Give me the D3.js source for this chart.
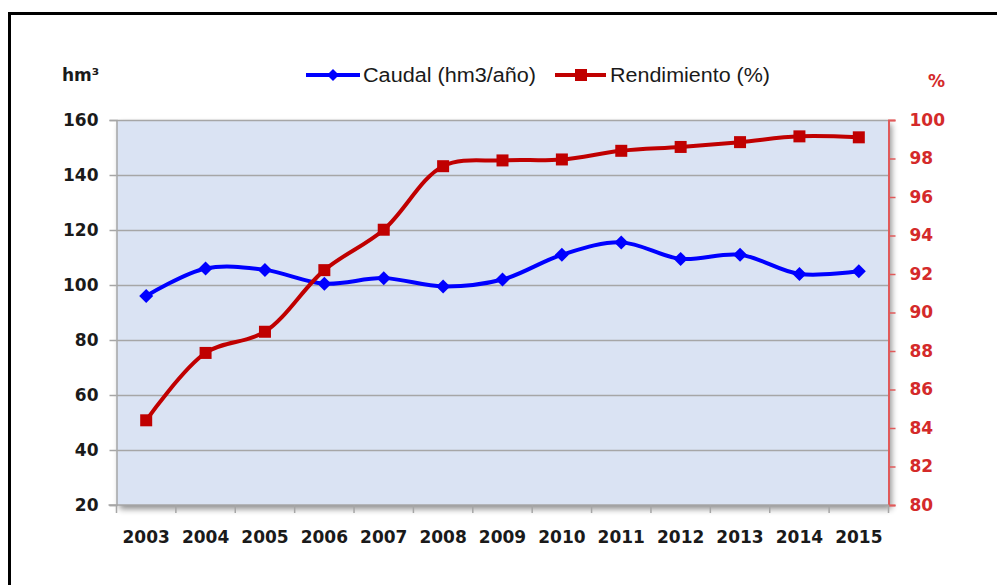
<!DOCTYPE html>
<html><head><meta charset="utf-8">
<script src="https://cdn.jsdelivr.net/npm/d3@7"></script>
<style>body{margin:0;background:#fff}svg{display:block}</style>
</head><body>
<script>
const years = ["2003","2004","2005","2006","2007","2008","2009","2010","2011","2012","2013","2014","2015"];
const caudal = [96, 106, 105.5, 100.5, 102.5, 99.5, 102, 111, 115.5, 109.5, 111, 104, 105];
const rendimiento = [84.4, 87.9, 89.0, 92.2, 94.3, 97.6, 97.9, 97.95, 98.4, 98.6, 98.85, 99.15, 99.1];
const leftTicks = [20,40,60,80,100,120,140,160];
const rightTicks = [80,82,84,86,88,90,92,94,96,98,100];
const legendLabels = ["Caudal (hm3/año)", "Rendimiento (%)"];

const W = 997, H = 585;
const svg = d3.select("body").append("svg").attr("width", W).attr("height", H);

// outer frame
svg.append("path").attr("d", "M9.5,600 L9.5,13.5 L1000,13.5")
  .attr("fill","none").attr("stroke","#000").attr("stroke-width",3);

const L = 116.5, R = 888.5, T = 120, B = 505;
const x = d3.scaleBand().domain(years).range([L, R]);
const yL = d3.scaleLinear().domain([20,160]).range([B, T]);
const yR = d3.scaleLinear().domain([80,100]).range([B, T]);

const defs = svg.append("defs");
const f = defs.append("filter").attr("id","sh").attr("x","-5%").attr("y","-5%").attr("width","115%").attr("height","115%");
f.append("feGaussianBlur").attr("in","SourceAlpha").attr("stdDeviation",3);
f.append("feOffset").attr("dx",3).attr("dy",4).attr("result","b");
f.append("feComponentTransfer").append("feFuncA").attr("type","linear").attr("slope",0.45);
const m = f.append("feMerge"); m.append("feMergeNode"); m.append("feMergeNode").attr("in","SourceGraphic");

svg.append("rect").attr("x",L).attr("y",T).attr("width",R-L).attr("height",B-T)
  .attr("fill","#dae3f3").attr("filter","url(#sh)");

// gridlines
svg.append("g").selectAll("line").data(leftTicks.slice(1)).join("line")
  .attr("x1",L).attr("x2",R).attr("y1",d=>Math.round(yL(d))+0.5).attr("y2",d=>Math.round(yL(d))+0.5)
  .attr("stroke","#a6a6a6").attr("stroke-width",1.5);

const tickFont = 17;
// left axis
const gl = svg.append("g").attr("transform",`translate(${L},0)`)
  .call(d3.axisLeft(yL).tickValues(leftTicks).tickSize(7).tickPadding(11));
gl.select(".domain").attr("stroke","#a6a6a6").attr("stroke-width",1.5);
gl.selectAll(".tick line").attr("stroke","#a6a6a6").attr("stroke-width",1.5);
gl.selectAll("text").attr("font-family","DejaVu Sans").attr("font-weight","bold").attr("font-size",tickFont).attr("fill","#1a1a1a");

// right axis
const gr = svg.append("g").attr("transform",`translate(${R},0)`)
  .call(d3.axisRight(yR).tickValues(rightTicks).tickSize(7).tickPadding(14));
gr.select(".domain").attr("stroke","#e05a5a").attr("stroke-width",2);
gr.selectAll(".tick line").attr("stroke","#e05a5a").attr("stroke-width",1.5);
gr.selectAll("text").attr("font-family","DejaVu Sans").attr("font-weight","bold").attr("font-size",tickFont).attr("fill","#d42a2a");

// bottom axis
const gb = svg.append("g").attr("transform",`translate(0,${B})`);
gb.append("line").attr("x1",L-8).attr("x2",R).attr("y1",0).attr("y2",0).attr("stroke","#a6a6a6").attr("stroke-width",1.5);
const bounds = years.map(d=>x(d)).concat([R]);
gb.selectAll("line.t").data(bounds).join("line").attr("class","t")
  .attr("x1",d=>d).attr("x2",d=>d).attr("y1",0).attr("y2",8).attr("stroke","#a6a6a6").attr("stroke-width",1.5);
gb.selectAll("text").data(years).join("text")
  .attr("x",d=>x(d)+x.bandwidth()/2).attr("y",38).attr("text-anchor","middle")
  .attr("font-family","DejaVu Sans").attr("font-weight","bold").attr("font-size",tickFont).attr("fill","#1a1a1a")
  .text(d=>d);

const cx = d => x(d)+x.bandwidth()/2;
const curve = d3.curveCatmullRom.alpha(0.5);

// caudal line
svg.append("path").datum(years.map((d,i)=>[cx(d), yL(caudal[i])]))
  .attr("d", d3.line().curve(curve)).attr("fill","none").attr("stroke","#0000ff").attr("stroke-width",4);
svg.append("g").selectAll("path").data(years).join("path")
  .attr("transform",(d,i)=>`translate(${cx(d)},${yL(caudal[i])})`)
  .attr("d","M0,-7 L7,0 L0,7 L-7,0Z").attr("fill","#0000ff");

// rendimiento line
svg.append("path").datum(years.map((d,i)=>[cx(d), yR(rendimiento[i])]))
  .attr("d", d3.line().curve(curve)).attr("fill","none").attr("stroke","#c00000").attr("stroke-width",4);
svg.append("g").selectAll("rect").data(years).join("rect")
  .attr("x",d=>cx(d)-6).attr("y",(d,i)=>yR(rendimiento[i])-6).attr("width",12).attr("height",12)
  .attr("fill","#c00000");

// axis titles
svg.append("text").attr("x",62).attr("y",81).attr("font-family","DejaVu Sans").attr("font-weight","bold")
  .attr("font-size",17).attr("fill","#1a1a1a").text("hm³");
svg.append("text").attr("x",928).attr("y",87).attr("font-family","DejaVu Sans").attr("font-weight","bold")
  .attr("font-size",17).attr("fill","#d42a2a").text("%");

// legend
const lg = svg.append("g");
lg.append("line").attr("x1",306).attr("x2",360).attr("y1",75).attr("y2",75).attr("stroke","#0000ff").attr("stroke-width",4);
lg.append("path").attr("transform","translate(333,75)").attr("d","M0,-6 L6,0 L0,6 L-6,0Z").attr("fill","#0000ff");
lg.append("text").attr("x",363).attr("y",82).attr("font-family","Liberation Sans").attr("font-size",20)
  .attr("textLength",173).attr("lengthAdjust","spacingAndGlyphs")
  .attr("fill","#1a1a1a").text(legendLabels[0]);
lg.append("line").attr("x1",555).attr("x2",606).attr("y1",75).attr("y2",75).attr("stroke","#c00000").attr("stroke-width",4);
lg.append("rect").attr("x",575).attr("y",69).attr("width",12).attr("height",12).attr("fill","#c00000");
lg.append("text").attr("x",610).attr("y",82).attr("font-family","Liberation Sans").attr("font-size",20)
  .attr("textLength",160).attr("lengthAdjust","spacingAndGlyphs")
  .attr("fill","#1a1a1a").text(legendLabels[1]);
</script>
</body></html>
